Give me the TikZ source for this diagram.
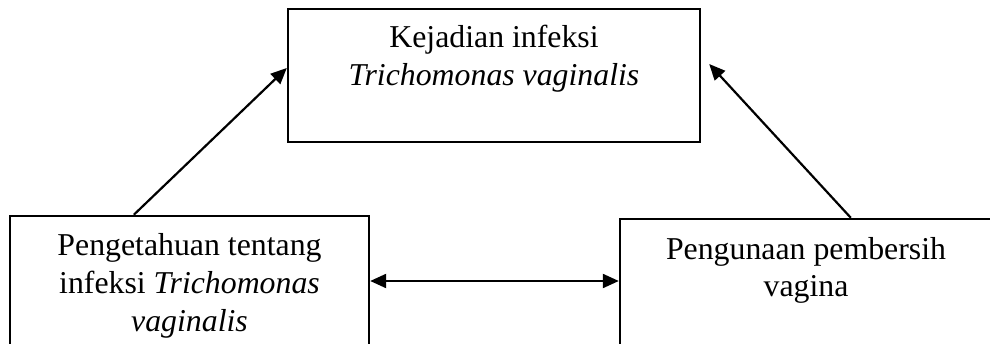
\documentclass[tikz,border=0pt]{standalone}
\usepackage{fontspec}
\setmainfont{Liberation Serif}
\usetikzlibrary{arrows.meta}
\begin{document}
\begin{tikzpicture}[x=1pt,y=-1pt,
  box/.style={draw=black, line width=2.4pt, rectangle, inner sep=0pt},
  txt/.style={anchor=base, inner sep=0pt, font=\fontsize{31.8}{38}\selectfont},
  arr/.style={line width=2.2pt, -{Triangle[length=16pt,width=14pt]}},
  darr/.style={line width=2.2pt, {Triangle[length=16pt,width=14pt]}-{Triangle[length=16pt,width=14pt]}}]
\clip (0,0) rectangle (990,344);
\fill[white] (0,0) rectangle (990,344);
% boxes
\node[box, minimum width=412pt, minimum height=133pt] (T) at (494,75.5) {};
\node[box, minimum width=359pt, minimum height=184pt] (L) at (189.5,308) {};
\node[box, minimum width=372pt, minimum height=178pt] (R) at (806,308) {};
% texts
\node[txt] (t1) at (494,48) {Kejadian infeksi};
\node[txt] (t2) at (494,86) {\textit{Trichomonas vaginalis}};
\node[txt] (l1) at (189.5,256) {Pengetahuan tentang};
\node[txt] (l2) at (189.5,294) {infeksi \textit{Trichomonas}};
\node[txt] (l3) at (189.5,332) {\textit{vaginalis}};
\node[txt] (r1) at (806,260) {Pengunaan pembersih};
\node[txt] (r2) at (806,297) {vagina};
% arrows
\draw[arr] ([xshift=125pt]L.north west) -- ([yshift=7.5pt]T.west);
\draw[arr] ([xshift=232pt]R.north west) -- ([xshift=8pt,yshift=11.5pt]T.east);
\draw[darr] ([yshift=27pt]L.east) -- ([yshift=27pt]R.west);
\end{tikzpicture}
\end{document}
